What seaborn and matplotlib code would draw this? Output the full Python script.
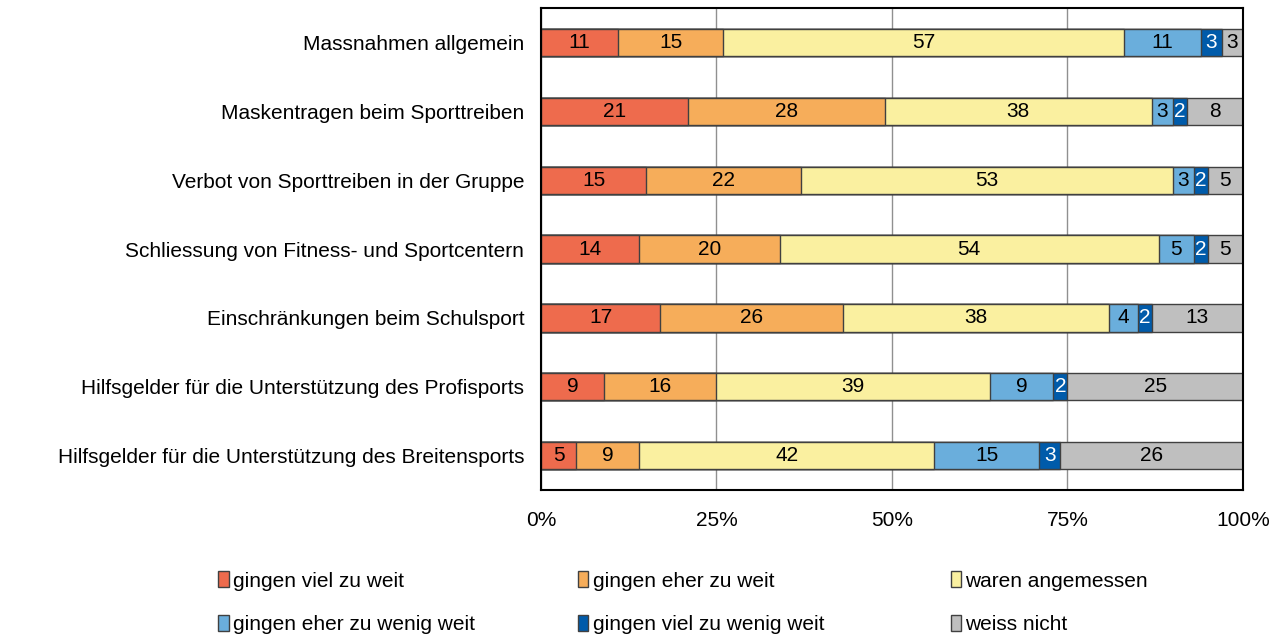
import numpy as np
import pandas as pd
import matplotlib
matplotlib.use("Agg")
import matplotlib.pyplot as plt
import seaborn as sns
from matplotlib.patches import Patch

items = ["Massnahmen allgemein",
         "Maskentragen beim Sporttreiben",
         "Verbot von Sporttreiben in der Gruppe",
         "Schliessung von Fitness- und Sportcentern",
         "Einschränkungen beim Schulsport",
         "Hilfsgelder für die Unterstützung des Profisports",
         "Hilfsgelder für die Unterstützung des Breitensports"]

categories = ["gingen viel zu weit", "gingen eher zu weit", "waren angemessen",
              "gingen eher zu wenig weit", "gingen viel zu wenig weit", "weiss nicht"]

viel_zu_weit = [11, 21, 15, 14, 17, 9, 5]
eher_zu_weit = [15, 28, 22, 20, 26, 16, 9]
angemessen = [57, 38, 53, 54, 38, 39, 42]
eher_zu_wenig = [11, 3, 3, 5, 4, 9, 15]
viel_zu_wenig = [3, 2, 2, 2, 2, 2, 3]
weiss_nicht = [3, 8, 5, 5, 13, 25, 26]

colors = ["#EE6B4D", "#F6AD5A", "#FAF0A0", "#6AAEDC", "#005BAA", "#BFBFBF"]
text_colors = ["black", "black", "black", "black", "white", "black"]

series = [viel_zu_weit, eher_zu_weit, angemessen, eher_zu_wenig, viel_zu_wenig, weiss_nicht]
df = pd.DataFrame(dict(zip(categories, series)), index=items)
cum = df.cumsum(axis=1)

FS = 15

sns.set_style("white")
plt.rcParams["font.family"] = ["Liberation Sans", "DejaVu Sans"]
plt.rcParams["font.size"] = FS
plt.rcParams["text.color"] = "black"
plt.rcParams["xtick.color"] = "black"
plt.rcParams["ytick.color"] = "black"

fig = plt.figure(figsize=(12.76, 6.37), dpi=100)
ax = fig.add_axes([0.424, 0.231, 0.550, 0.756])

# stacked bars: draw cumulative totals from last to first
for i in range(len(categories) - 1, -1, -1):
    d = pd.DataFrame({"item": items, "val": cum.iloc[:, i].values})
    sns.barplot(data=d, x="val", y="item", orient="h", color=colors[i],
                width=0.4, edgecolor="#404040", linewidth=1.0, ax=ax,
                saturation=1)

for r in range(len(items)):
    left = 0
    for i, c in enumerate(categories):
        v = df.iloc[r, i]
        ax.text(left + v / 2, r, str(v), ha="center", va="center",
                color=text_colors[i], fontsize=FS)
        left += v

ax.set_xlim(0, 100)
ax.set_ylim(6.5, -0.5)
ax.set_xticks([0, 25, 50, 75, 100])
ax.set_xticklabels(["0%", "25%", "50%", "75%", "100%"])
ax.xaxis.grid(True, color="#909090", linewidth=1)
ax.set_axisbelow(True)
ax.set_xlabel("")
ax.set_ylabel("")
ax.tick_params(axis="x", length=0, pad=15, labelsize=FS, labelcolor="black")
ax.tick_params(axis="y", length=0, pad=12, labelsize=FS, labelcolor="black")
for s in ax.spines.values():
    s.set_visible(True)
    s.set_color("black")
    s.set_linewidth(1.5)

handles = [Patch(facecolor=colors[i], edgecolor="#404040", label=c)
           for i, c in enumerate(categories)]
# one small legend per column, two rows each
col_x = [0.171, 0.453, 0.745]
for j in range(3):
    fig.legend(handles=[handles[j], handles[j + 3]], loc="lower left",
               bbox_to_anchor=(col_x[j], 0.005), ncol=1, frameon=False,
               handlelength=0.5, handleheight=0.8, handletextpad=0.2,
               labelspacing=1.15, borderpad=0, borderaxespad=0,
               fontsize=FS)

fig.savefig("out.png", dpi=100)
